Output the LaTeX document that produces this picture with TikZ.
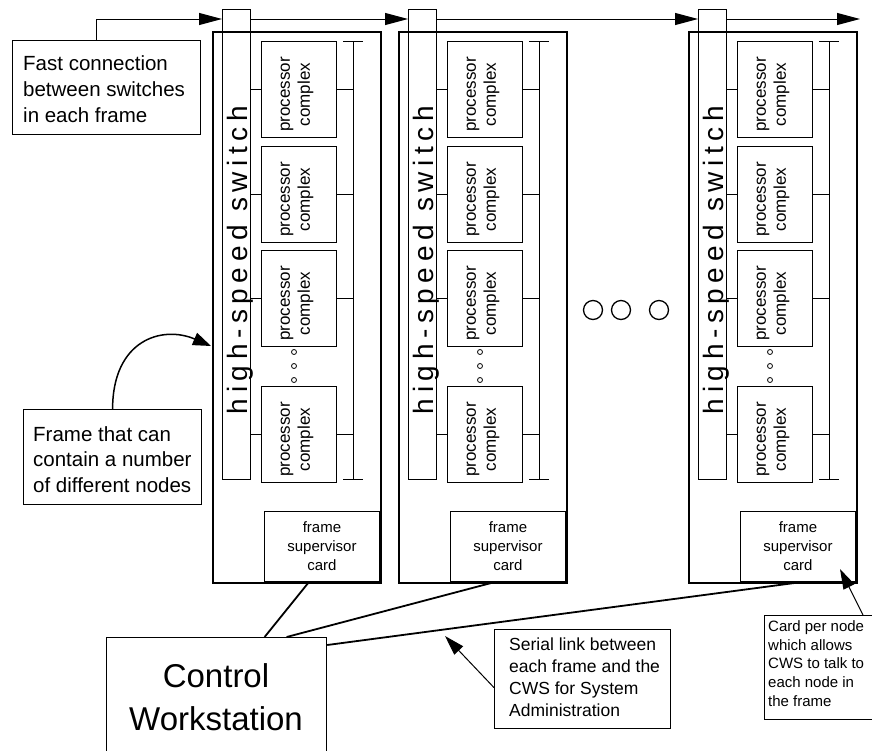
\documentclass[tikz,border=0pt]{standalone}
\usepackage{fontspec}
\setmainfont{Liberation Sans}
\usetikzlibrary{arrows.meta,calc}
\newcommand\fsz[2]{\fontsize{#1pt}{#2pt}\selectfont}
\begin{document}
\begin{tikzpicture}[x=1pt,y=-1pt,
  rackframe/.style={draw, line width=2pt, inner sep=0pt, anchor=north west,
    minimum width=168pt, minimum height=551pt},
  switchbar/.style={draw, line width=1pt, inner sep=0pt, anchor=north west,
    minimum width=28pt, minimum height=470pt},
  switchlabel/.style={rotate=90, inner sep=0pt,
    font=\fsz{28}{28}\addfontfeature{LetterSpace=20}},
  pcbox/.style={draw, line width=1.1pt, inner sep=0pt, anchor=north west,
    minimum width=75pt, minimum height=96pt},
  pclabel/.style={rotate=90, align=center, inner sep=0pt, font=\fsz{17}{20}},
  cardbox/.style={draw, line width=1.1pt, inner sep=0pt, anchor=south east,
    minimum width=115pt, minimum height=70pt, align=center, font=\fsz{15}{19}},
  callout/.style={draw, line width=1.2pt, inner sep=0pt, anchor=north west},
  note/.style={anchor=west, align=left, inner sep=0pt},
  wire/.style={line width=1pt},
  seriallink/.style={line width=1.8pt},
  bigtip/.style={-{Triangle[length=23pt,width=12pt]}, line width=1pt},
  tip/.style={-{Triangle[length=20pt,width=12pt]}, line width=1pt},
]
\useasboundingbox (0,0) rectangle (872,750);

% three frames, each with a switch, four processor complexes and a card
\foreach \i/\dx in {1/0,2/186,3/476}{
  \node[rackframe] (fr\i) at (212+\dx,31) {};
  \node[switchbar] (sw\i) at (222+\dx,9) {};
  \node[switchlabel] (swl\i) at (240+\dx,260) {high-speed switch};
  \coordinate (bt\i) at (353+\dx,41);
  \coordinate (bb\i) at (353+\dx,479);
  \draw[wire] (bt\i) -- (bb\i);
  \draw[wire] ([xshift=-10pt]bt\i) -- ([xshift=10pt]bt\i);
  \draw[wire] ([xshift=-10pt]bb\i) -- ([xshift=10pt]bb\i);
  \foreach \j/\y in {1/41,2/146,3/250,4/386}{
    \node[pcbox] (pc\i-\j) at (261+\dx,\y) {};
    \node[pclabel] at ([shift={(-2pt,-5pt)}]pc\i-\j.center) {processor\\complex};
    \draw[wire] (sw\i.east |- pc\i-\j.west) -- (pc\i-\j.west);
    \draw[wire] (pc\i-\j.east) -- (pc\i-\j.east -| bt\i);
  }
  \foreach \k in {352,366,380}
    \draw[line width=0.8pt] (294+\dx,\k) circle[radius=2.5pt];
  \node[cardbox] (card\i) at (380+\dx,582) {frame\\supervisor\\card};
}

% ellipsis between the second and the last frame
\foreach \cx in {593,621,659}
  \draw[line width=1.3pt] (\cx,310) circle[radius=9.5pt];

% switch-to-switch connection
\node[callout, minimum width=188pt, minimum height=94pt] (fast) at (12,40) {};
\node[note, font=\fsz{20.5}{26}] at ([shift={(11pt,-2pt)}]fast.west)
  {Fast connection\\between switches\\in each frame};
\coordinate (busrow) at (0,19);
\coordinate (beyond) at (860,19);
\draw[bigtip] ([xshift=-10pt]fast.north) |- (sw1.west |- busrow);
\draw[bigtip] (sw1.east |- busrow) -- (sw2.west |- busrow);
\draw[bigtip] (sw2.east |- busrow) -- (sw3.west |- busrow);
\draw[bigtip] (sw3.east |- busrow) -- (beyond);

% frame note
\node[callout, minimum width=178pt, minimum height=95pt] (framenote) at (23,409) {};
\node[note, font=\fsz{20.5}{25.5}] at ([shift={(10pt,-2.5pt)}]framenote.west)
  {Frame that can\\contain a number\\of different nodes};
\draw[-{Triangle[length=18pt,width=13pt]}, line width=1.5pt] (framenote.north)
  .. controls +(0,-69) and +(-49,-21) .. ([xshift=-1pt,yshift=-315pt]fr1.north west);

% control workstation and its serial links
\node[callout, minimum width=220pt, minimum height=120pt] (cws) at (106,637) {};
\node[align=center, inner sep=0pt, font=\fsz{33}{43}] at (216,697.5) {Control\\Workstation};
\draw[seriallink] ([xshift=48pt]cws.north) -- ([xshift=-13pt]card1.south);
\draw[seriallink] ([xshift=70pt]cws.north) -- ([xshift=-13pt]card2.south);
\draw[seriallink] ([yshift=-8pt]cws.north east) -- ([xshift=4pt]card3.south);

% serial link note
\node[callout, minimum width=176pt, minimum height=99pt] (serialnote) at (494,629) {};
\node[note, font=\fsz{17.5}{22}] at ([shift={(15pt,2pt)}]serialnote.west)
  {Serial link between\\each frame and the\\CWS for System\\Administration};
\coordinate (linkpt) at (445,636);
\draw[tip] ([yshift=-8.5pt]serialnote.west) -- (linkpt);

% card note
\node[callout, minimum width=112pt, minimum height=104pt] (cardnote) at (764,615) {};
\node[note, font=\fsz{15}{18.7}] at ([shift={(4pt,4pt)}]cardnote.west)
  {Card per node\\which allows\\CWS to talk to\\each node in\\the frame};
\draw[tip] ([xshift=99pt]cardnote.north west) -- ($(card3.south east)+(-16,-13)$);
\end{tikzpicture}
\end{document}
